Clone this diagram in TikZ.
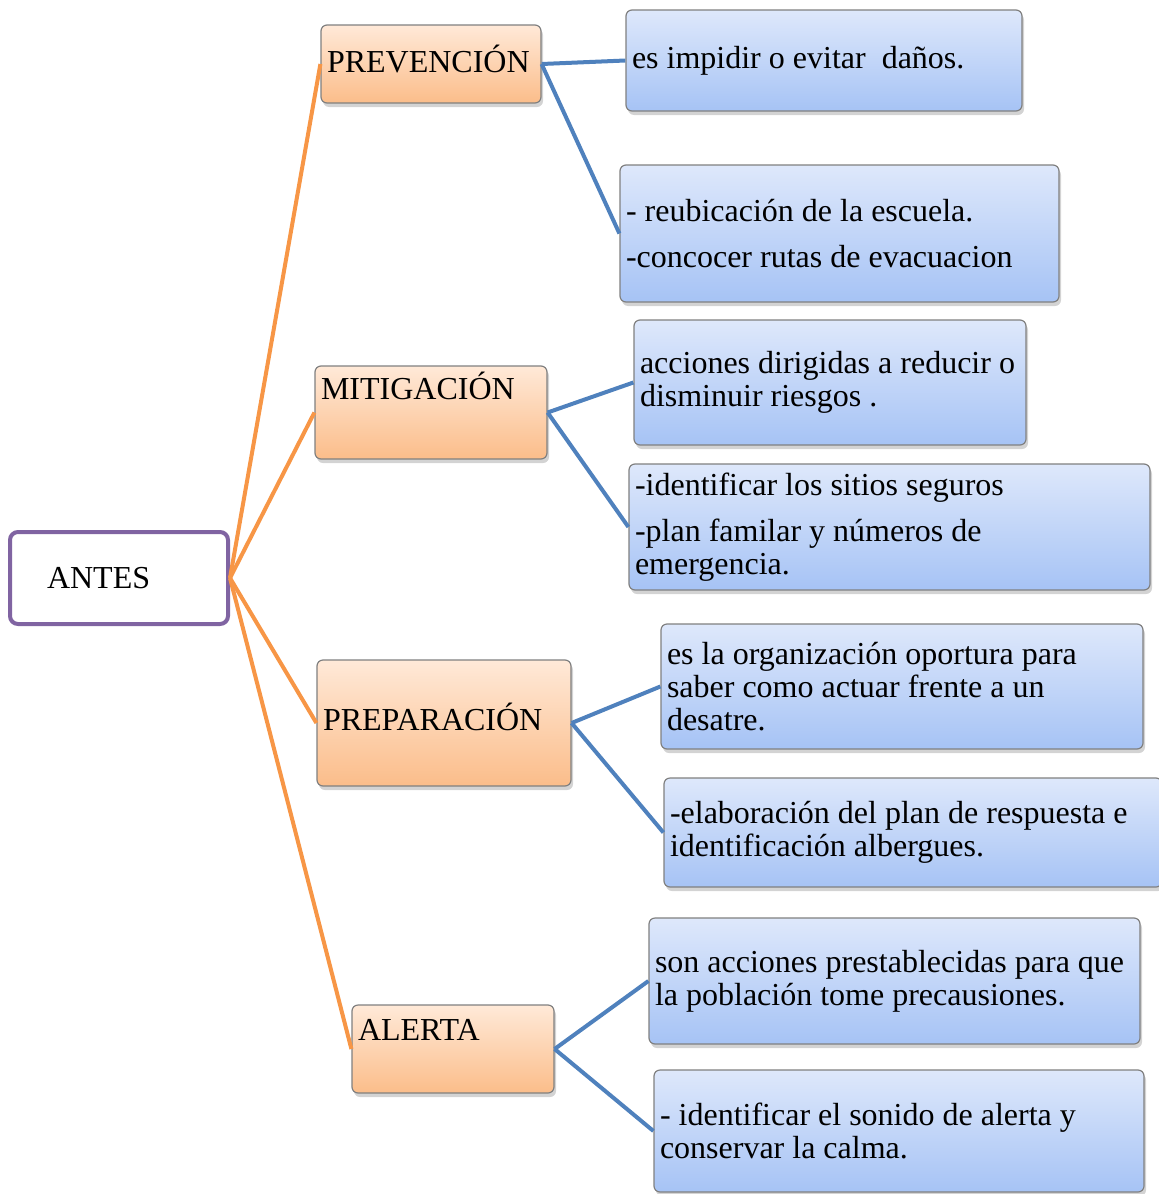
\documentclass[tikz,border=0pt]{standalone}
\usepackage{fontspec}
\setmainfont{Liberation Serif}
\usetikzlibrary{shadows}
\definecolor{morado}{HTML}{8064A2}
\definecolor{naranja}{HTML}{F79646}
\definecolor{azul}{HTML}{4F81BD}
\definecolor{durazno}{HTML}{FFE9D8}
\definecolor{duraznoosc}{HTML}{FBBD8A}
\definecolor{celeste}{HTML}{DEE8FB}
\definecolor{celesteosc}{HTML}{A6C3F5}

\begin{document}
\begin{tikzpicture}[x=0.5pt,y=-0.5pt,font=\fontsize{16}{16.5}\selectfont,
  caja/.style={draw=black!50,line width=0.6pt,rounded corners=3pt,align=flush left,inner xsep=3pt,inner ysep=0pt,
    drop shadow={opacity=0.35,shadow xshift=1pt,shadow yshift=-2pt}},
  etapa/.style={caja,top color=durazno,bottom color=duraznoosc},
  detalle/.style={caja,top color=celeste,bottom color=celesteosc},
  rama/.style={naranja,line width=2pt},
  sub/.style={azul,line width=2pt}]
\useasboundingbox (0,0) rectangle (1158,1194);
% tema central
\node[draw=morado,line width=2pt,rounded corners=4pt,fill=white,align=flush left,inner xsep=18.5pt,
  text width=72pt,minimum width=109pt,minimum height=46pt] (antes) at (119,578) {ANTES};
% etapas
\node[etapa,minimum width=110pt,text width=104pt,text height=23.5pt,text depth=15.5pt] (prev) at (431,64) {PREVENCIÓN};
\node[etapa,minimum width=116pt,text width=110pt,text height=16.5pt,text depth=30pt] (miti) at (431,412.5) {MITIGACIÓN};
\node[etapa,minimum width=127pt,text width=121pt,text height=35pt,text depth=28pt] (prep) at (444,723) {PREPARACIÓN};
\node[etapa,minimum width=101pt,text width=95pt,text height=17.5pt,text depth=26.5pt] (aler) at (453,1049) {ALERTA};
% detalles
\node[detalle,minimum width=198pt,text width=192pt,minimum height=50.5pt] (d1) at (824,60.5) {es impidir o evitar\ \ daños.};
\node[detalle,minimum width=219.5pt,text width=213.5pt,minimum height=68.5pt] (d2) at (839.5,233.5)
  {- reubicación de la escuela.\\[6.5pt] -concocer rutas de evacuacion};
\node[detalle,minimum width=196pt,text width=190pt,minimum height=62.5pt] (d3) at (830,382.5)
  {acciones dirigidas a reducir o\\ disminuir riesgos .};
\node[detalle,minimum width=260.5pt,text width=254.5pt,minimum height=63pt] (d4) at (889.5,527)
  {-identificar los sitios seguros\\[6.5pt] -plan familar y números de\\ emergencia.};
\node[detalle,minimum width=241pt,text width=235pt,minimum height=62.5pt] (d5) at (902,686.5)
  {es la organización oportura para\\ saber como actuar frente a un\\ desatre.};
\node[detalle,minimum width=249pt,text width=243pt,minimum height=54.5pt] (d6) at (913,832.5)
  {-elaboración del plan de respuesta e\\ identificación albergues.};
\node[detalle,minimum width=245.5pt,text width=239.5pt,minimum height=63pt] (d7) at (894.5,981)
  {son acciones prestablecidas para que\\ la población tome precausiones.};
\node[detalle,minimum width=245pt,text width=239pt,minimum height=61pt] (d8) at (899,1131)
  {- identificar el sonido de alerta y\\ conservar la calma.};
% conectores
\foreach \e in {prev,miti,prep,aler}
  \draw[rama] (antes.east) -- (\e.west);
\foreach \a/\b in {prev/d1,prev/d2,miti/d3,miti/d4,prep/d5,prep/d6,aler/d7,aler/d8}
  \draw[sub] (\a.east) -- (\b.west);
\end{tikzpicture}
\end{document}
